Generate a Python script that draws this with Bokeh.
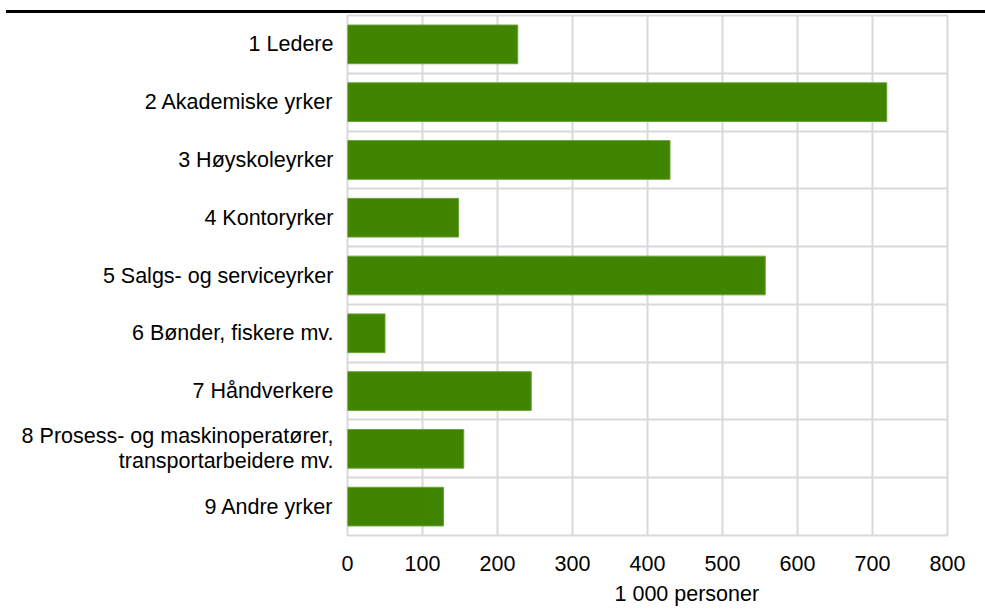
from bokeh.plotting import figure
from bokeh.models import Range1d, FixedTicker, Title, Div
from bokeh.layouts import column
from bokeh.embed import file_html
from bokeh.resources import INLINE

categories = [
    "1 Ledere",
    "2 Akademiske yrker",
    "3 Høyskoleyrker",
    "4 Kontoryrker",
    "5 Salgs- og serviceyrker",
    "6 Bønder, fiskere mv.",
    "7 Håndverkere",
    "8 Prosess- og maskinoperatører,\ntransportarbeidere mv.",
    "9 Andre yrker",
]
values = [227, 719, 430, 148, 557, 50, 245, 155, 128]
x_ticks = [0, 100, 200, 300, 400, 500, 600, 700, 800]
x_title = "1 000 personer"

FONT = "Liberation Sans"
FS = "21.5px"

n = len(categories)
centers = [i + 0.5 for i in range(n)]

# thin black rule across the top of the page
rule = Div(text="", width=979, height=3, margin=(10, 0, 0, 6),
           styles={"background-color": "#000000"})

p = figure(width=985, height=601, output_backend="svg", toolbar_location=None,
           x_range=Range1d(0, 800), y_range=Range1d(n, 0),
           min_border_left=347, min_border_right=38, min_border_top=2,
           min_border_bottom=79)

p.hbar(y=centers, right=values, left=0, height=0.67,
       fill_color="#408400", line_color="#6aa33a", line_width=1)

p.outline_line_color = "#d9d9d9"
p.outline_line_width = 2
p.background_fill_color = "white"
p.border_fill_color = "white"

# x axis
p.xaxis.ticker = FixedTicker(ticks=x_ticks)
p.xaxis.axis_line_color = None
p.xaxis.major_tick_line_color = None
p.xaxis.minor_tick_line_color = None
p.xaxis.major_tick_out = 0
p.xaxis.major_tick_in = 0
p.xaxis.major_label_standoff = 20
p.xaxis.major_label_text_font = FONT
p.xaxis.major_label_text_font_size = FS
p.xaxis.major_label_text_color = "#000000"
p.xgrid.ticker = FixedTicker(ticks=x_ticks[1:-1])
p.xgrid.grid_line_color = "#d9d9d9"
p.xgrid.grid_line_width = 2

# y axis
p.yaxis.ticker = FixedTicker(ticks=centers)
p.yaxis.major_label_overrides = {c: lab for c, lab in zip(centers, categories)}
p.yaxis.axis_line_color = None
p.yaxis.major_tick_line_color = None
p.yaxis.minor_tick_line_color = None
p.yaxis.major_tick_out = 0
p.yaxis.major_tick_in = 0
p.yaxis.major_label_standoff = 14
p.yaxis.major_label_text_font = FONT
p.yaxis.major_label_text_font_size = FS
p.yaxis.major_label_text_color = "#000000"
p.yaxis.major_label_text_line_height = 1.05
p.ygrid.ticker = FixedTicker(ticks=list(range(1, n)))
p.ygrid.grid_line_color = "#d9d9d9"
p.ygrid.grid_line_width = 2

# x axis title, below the tick labels
p.add_layout(Title(text=x_title, align="left", offset=267, standoff=13,
                   text_font=FONT, text_font_size=FS, text_font_style="normal",
                   text_color="#000000"), "below")

layout = column(rule, p, spacing=0)
open("out.html", "w").write(file_html(layout, INLINE))
